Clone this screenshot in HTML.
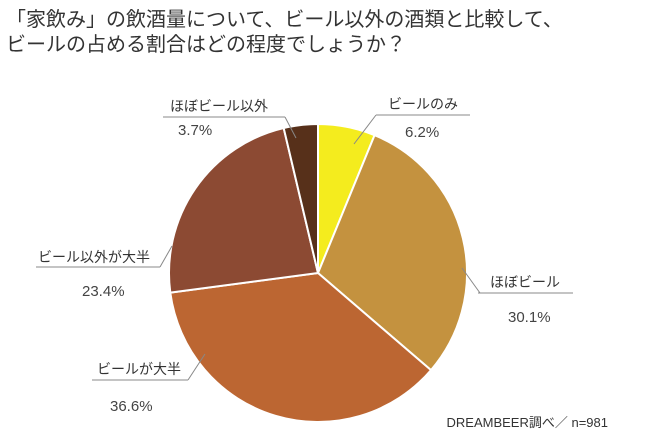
<!DOCTYPE html>
<html><head><meta charset="utf-8"><style>
body{margin:0;background:#fff;width:650px;height:436px;overflow:hidden;font-family:"Liberation Sans","Noto Sans CJK JP",sans-serif;color:#3a3a3a}
#title{position:absolute;left:6px;top:8px;font-size:20px;line-height:25px;margin:0;font-weight:normal;color:#333}
</style></head><body>
<h1 id="title">「家飲み」の飲酒量について、ビール以外の酒類と比較して、<br>ビールの占める割合はどの程度でしょうか？</h1>
<svg id="chart" width="650" height="436" style="position:absolute;left:0;top:0" font-family="Liberation Sans, Noto Sans CJK JP, sans-serif"></svg>
<script>
const categories=["ビールのみ","ほぼビール","ビールが大半","ビール以外が大半","ほぼビール以外"];
const values=[6.2,30.1,36.6,23.4,3.7];
const valueLabels=["6.2%","30.1%","36.6%","23.4%","3.7%"];
const colors=["#f4ec1e","#c4923f","#bc6632","#8c4a33","#57301a"];
// label layout: [textX, textY, lineX1, lineX2, lineY, pctX, pctY, leaderStartX, leaderEndX, leaderEndY]
const layout=[[388,109,376,470,115,405,137,376,354,144],[490,287,478,573,293,508,322,480,462,268],[97,374,92,188,380,110,411,188,205,354],[38,262,36,160,267,82,296,160,172,246],[170,111,163,285,117,178,135,285,296,138]];
const svg=document.getElementById('chart');
const NS="http://www.w3.org/2000/svg";
const cx=318,cy=273,r=149;
const total=values.reduce((a,b)=>a+b,0);
function pt(a,rr){return [cx+rr*Math.sin(a),cy-rr*Math.cos(a)];}
let start=0;
values.forEach((v,i)=>{
  const ang=v/total*2*Math.PI,end=start+ang;
  const p1=pt(start,r),p2=pt(end,r);
  const path=document.createElementNS(NS,'path');
  path.setAttribute('d',`M${cx},${cy}L${p1[0]},${p1[1]}A${r},${r} 0 ${ang>Math.PI?1:0} 1 ${p2[0]},${p2[1]}Z`);
  path.setAttribute('fill',colors[i]);path.setAttribute('stroke','#fff');path.setAttribute('stroke-width','2');
  
  
  svg.appendChild(path);
  start=end;
});
values.forEach((v,i)=>{
  const L=layout[i];
  const ln=document.createElementNS(NS,'polyline');
  ln.setAttribute('points',`${L[2]},${L[4]} ${L[3]},${L[4]}`);
  ln.setAttribute('fill','none');ln.setAttribute('stroke','#888');ln.setAttribute('stroke-width','1');
  
  
  svg.appendChild(ln);
  const ld=document.createElementNS(NS,'line');
  ld.setAttribute('x1',L[7]);ld.setAttribute('y1',L[4]);ld.setAttribute('x2',L[8]);ld.setAttribute('y2',L[9]);
  ld.setAttribute('stroke','#888');ld.setAttribute('stroke-width','1');
  
  
  svg.appendChild(ld);
  const t=document.createElementNS(NS,'text');
  t.setAttribute('x',L[0]);t.setAttribute('y',L[1]);t.setAttribute('font-size','14');t.setAttribute('fill','#333');
  t.textContent=categories[i];
  
  
  svg.appendChild(t);
  const p=document.createElementNS(NS,'text');
  p.setAttribute('x',L[5]);p.setAttribute('y',L[6]);p.setAttribute('font-size','15');p.setAttribute('fill','#444');
  p.textContent=valueLabels[i];
  
  
  svg.appendChild(p);
});
const f=document.createElementNS(NS,'text');
f.setAttribute('x',608);f.setAttribute('y',427);f.setAttribute('text-anchor','end');f.setAttribute('font-size','13');f.setAttribute('fill','#333');
f.textContent="DREAMBEER調べ／ n=981";


svg.appendChild(f);
</script>
</body></html>
